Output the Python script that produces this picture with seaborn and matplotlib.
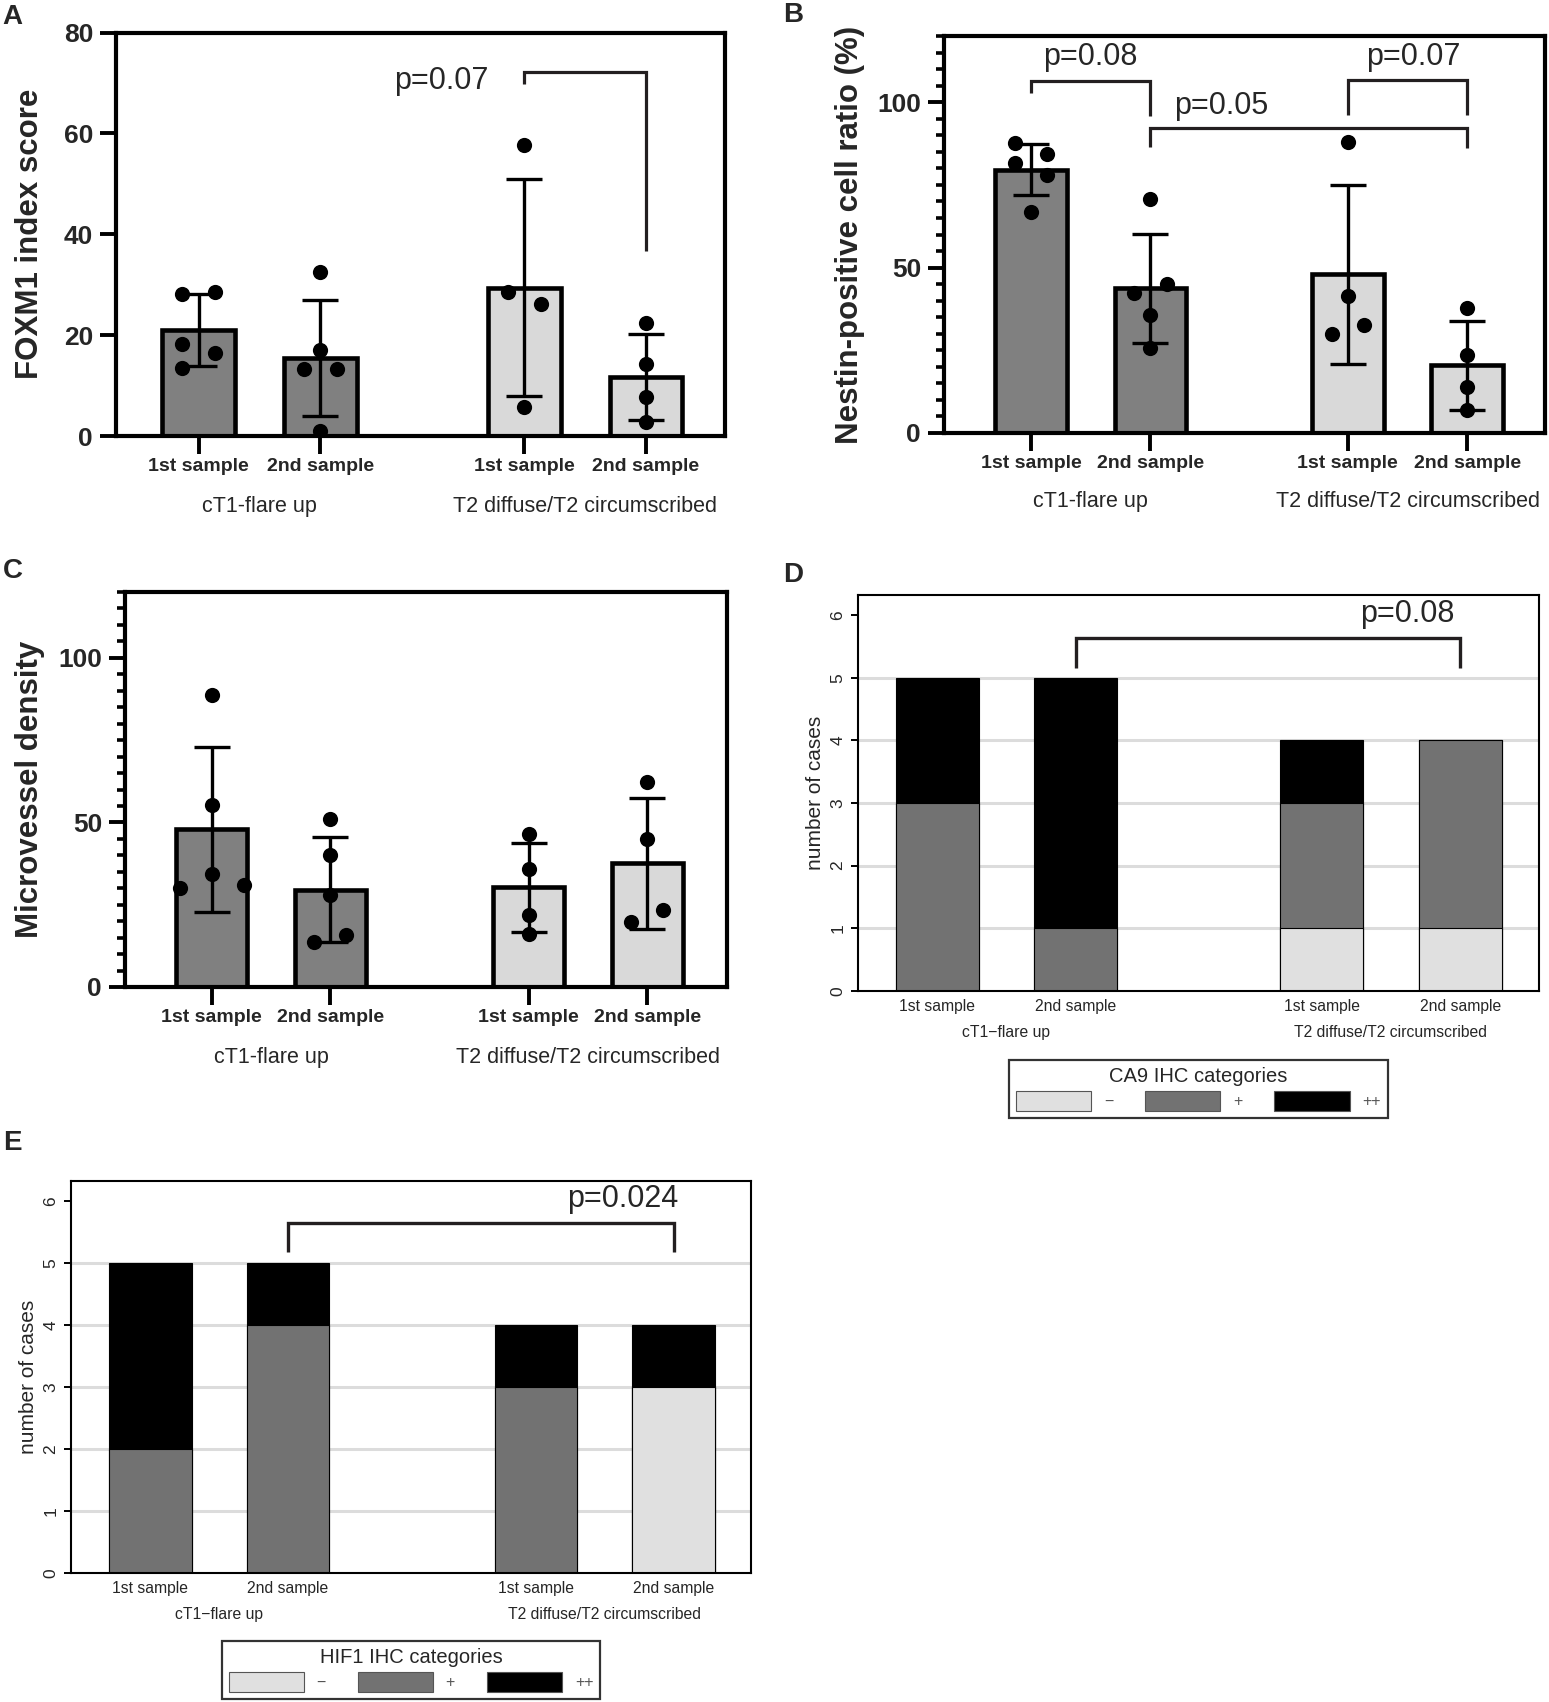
import numpy as np
import pandas as pd
import matplotlib
matplotlib.use("Agg")
import matplotlib.pyplot as plt
from matplotlib.patches import Patch
from matplotlib.ticker import MultipleLocator
import seaborn as sns

sns.set_theme(style="ticks")
plt.rcParams['font.family'] = ['Liberation Sans', 'DejaVu Sans']

# ------------------------------------------------------------------ data
sample_labels = ["1st sample", "2nd sample", "1st sample", "2nd sample"]
group_labels = ["cT1-flare up", "T2 diffuse/T2 circumscribed"]
group_labels_r = ["cT1\u2212flare up", "T2 diffuse/T2 circumscribed"]
bar_shade = ["dark", "dark", "light", "light"]

# A: FOXM1 index score
foxm1_mean = [21.0, 15.4, 29.4, 11.7]
foxm1_sd = [7.1, 11.5, 21.5, 8.6]
foxm1_points = [[28.2, 28.6, 18.3, 16.4, 13.4],
                [32.5, 17.0, 13.3, 13.3, 1.0],
                [57.8, 28.5, 26.1, 5.7],
                [22.4, 14.3, 7.7, 2.8]]

# B: Nestin-positive cell ratio (%)
nestin_mean = [79.6, 43.7, 48.0, 20.5]
nestin_sd = [7.8, 16.6, 27.1, 13.5]
nestin_points = [[87.7, 81.6, 84.3, 77.9, 66.7],
                 [70.8, 42.4, 45.1, 35.8, 25.7],
                 [87.9, 41.3, 30.0, 32.6],
                 [37.9, 23.6, 13.8, 7.0]]

# C: Microvessel density
mvd_mean = [47.9, 29.6, 30.3, 37.6]
mvd_sd = [25.0, 16.0, 13.5, 19.9]
mvd_points = [[88.7, 55.2, 34.4, 30.1, 30.9],
              [50.9, 40.0, 27.9, 13.7, 15.7],
              [46.6, 36.0, 22.0, 16.2],
              [62.3, 45.1, 23.5, 19.8]]

# D: CA9 IHC categories (counts of cases: -, +, ++)
ihc_categories = ["\u2212", "+", "++"]
ca9_neg = [0, 0, 1, 1]
ca9_pos = [3, 1, 2, 3]
ca9_pospos = [2, 4, 1, 0]

# E: HIF1 IHC categories
hif1_neg = [0, 0, 0, 3]
hif1_pos = [2, 4, 3, 0]
hif1_pospos = [3, 1, 1, 1]

# p-value annotations
pvals_a = ["p=0.07"]
pvals_b = ["p=0.08", "p=0.05", "p=0.07"]
pvals_d = ["p=0.08"]
pvals_e = ["p=0.024"]

# ------------------------------------------------------------------ layout / style
W, H = 1549, 1702
fig = plt.figure(figsize=(W / 100, H / 100), dpi=100)
fig.patch.set_facecolor("white")


def axes_px(left, right, top, bottom):
    return fig.add_axes([left / W, 1 - bottom / H, (right - left) / W, (bottom - top) / H])


SHADES = {"dark": "#808080", "light": "#d9d9d9"}
IHC_COLORS = ["#e0e0e0", "#727272", "#000000"]
BRACKET_C = "#231f20"

jit_a = [[-1, 1, -1, 1, -1], [0, 0, -1, 1, 0], [0, -1, 1, 0], [0, 0, 0, 0]]
jit_b = [[-1, -1, 1, 1, 0], [0, -1, 1, 0, 0], [0, 0, -1, 1], [0, 0, 0, 0]]
jit_c = [[0, 0, 0, -2, 2], [0, 0, 0, -1, 1], [0, 0, 0, 0], [0, 0, 1, -1]]


def bracket(ax, x1, x2, y, y1, y2, lw=2.3):
    ax.plot([x1, x1, x2, x2], [y1, y, y, y2], color=BRACKET_C, lw=lw,
            solid_capstyle="butt", solid_joinstyle="miter", zorder=5, clip_on=False)


def gp_panel(ax, pos, means, sds, points, jit, ylim, major, minor, ylabel,
             xlim, ylabel_x, group_off):
    df = pd.DataFrame({"pos": pos, "value": means, "shade": bar_shade})
    sns.barplot(data=df, x="pos", y="value", hue="shade", palette=SHADES,
                dodge=False, native_scale=True, width=0.6, saturation=1,
                edgecolor="black", linewidth=3.3, errorbar=None, legend=False,
                ax=ax, zorder=2)
    ax.errorbar(pos, means, yerr=sds, fmt="none", ecolor="black",
                elinewidth=2.4, capsize=13, capthick=2.4, zorder=3)
    xs, ys = [], []
    for p, vals, js in zip(pos, points, jit):
        for v, j in zip(vals, js):
            xs.append(p + 0.135 * j)
            ys.append(v)
    sns.scatterplot(x=xs, y=ys, color="black", s=120, linewidth=0,
                    ax=ax, zorder=4, legend=False)
    ax.set_xlim(*xlim)
    ax.set_ylim(*ylim)
    ax.set_yticks(major)
    ax.set_yticklabels([str(m) for m in major], fontsize=19, fontweight="bold")
    if minor:
        ax.yaxis.set_minor_locator(MultipleLocator(minor))
        ax.tick_params(axis="y", which="minor", length=6, width=2.6,
                       direction="out", color="black")
    ax.set_xticks(pos)
    ax.set_xticklabels(sample_labels, fontsize=14, fontweight="bold")
    ax.tick_params(axis="x", which="major", length=13, width=2.8,
                   direction="out", pad=3, color="black")
    ax.tick_params(axis="y", which="major", length=11.5, width=2.8,
                   direction="out", pad=5, color="black")
    ax.tick_params(axis="x", which="minor", bottom=False)
    for s in ax.spines.values():
        s.set_linewidth(3.0)
        s.set_color("black")
    ax.set_xlabel("")
    ax.set_ylabel(ylabel, fontsize=22.5, fontweight="bold")
    ax.yaxis.set_label_coords(ylabel_x, 0.5)
    centers = [(pos[0] + pos[1]) / 2, (pos[2] + pos[3]) / 2]
    for c, g in zip(centers, group_labels):
        ax.annotate(g, xy=(c, 0), xycoords=("data", "axes fraction"),
                    xytext=(0, -group_off), textcoords="offset points",
                    ha="center", va="center", fontsize=15.5)


def stacked_panel(ax, pos, neg, pos_, pospos, title, xlim, ylim, ylabel_x):
    cum_top = [a + b + c for a, b, c in zip(neg, pos_, pospos)]
    cum_mid = [a + b for a, b in zip(neg, pos_)]
    for i in range(1, 6):
        ax.axhline(i, color="#dcdcdc", lw=2.2, zorder=0)
    for vals, col in zip([cum_top, cum_mid, neg], IHC_COLORS[::-1]):
        df = pd.DataFrame({"pos": pos, "value": vals})
        sns.barplot(data=df, x="pos", y="value", color=col, native_scale=True,
                    width=0.6, saturation=1, edgecolor="black", linewidth=0.8,
                    errorbar=None, ax=ax, zorder=2)
    ax.set_xlim(*xlim)
    ax.set_ylim(*ylim)
    ax.set_yticks(range(0, 7))
    ax.set_yticklabels([str(i) for i in range(0, 7)], fontsize=12.5,
                       rotation=90, va="center")
    ax.tick_params(axis="y", length=5, width=1.4, direction="out", pad=4,
                   color="black")
    ax.set_xticks(pos)
    ax.set_xticklabels(sample_labels, fontsize=11.3)
    ax.tick_params(axis="x", length=0, pad=6)
    for s in ax.spines.values():
        s.set_linewidth(1.5)
        s.set_color("black")
    ax.set_xlabel("")
    ax.set_ylabel("number of cases", fontsize=15)
    ax.yaxis.set_label_coords(ylabel_x, 0.5)
    centers = [(pos[0] + pos[1]) / 2, (pos[2] + pos[3]) / 2]
    for c, g in zip(centers, group_labels_r):
        ax.annotate(g, xy=(c, 0), xycoords=("data", "axes fraction"),
                    xytext=(0, -30), textcoords="offset points",
                    ha="center", va="center", fontsize=11.3)
    handles = [Patch(facecolor=c, edgecolor="#555555", linewidth=0.8)
               for c in IHC_COLORS]
    leg = ax.legend(handles, ihc_categories, title=title, ncol=3,
                    loc="upper center", bbox_to_anchor=(0.5, -0.153),
                    frameon=True, fancybox=False, edgecolor="black",
                    fontsize=11.5, title_fontsize=14.5, handlelength=4.7,
                    handleheight=1.55, handletextpad=0.8, columnspacing=2.0,
                    borderpad=0.45, labelspacing=0.3, labelcolor="#555555")
    leg.get_frame().set_linewidth(1.6)


# ---------------- Panel A
axA = axes_px(116, 725, 32.6, 436)
posA = [0, 1, 2.68, 3.68]
gp_panel(axA, posA, foxm1_mean, foxm1_sd, foxm1_points, jit_a, (0, 80),
         [0, 20, 40, 60, 80], None, "FOXM1 index score", (-0.68, 4.33),
         -71 / 609, 51)
bracket(axA, posA[2], posA[3], 72.2, 69.9, 36.7)
axA.text(2.0, 70.5, pvals_a[0], ha="center", va="center", fontsize=22)

# ---------------- Panel B
axB = axes_px(944, 1545, 36, 433)
posB = [0, 1, 2.65, 3.65]
gp_panel(axB, posB, nestin_mean, nestin_sd, nestin_points, jit_b, (0, 120),
         [0, 50, 100], 5, "Nestin-positive cell ratio (%)", (-0.727, 4.3),
         -79 / 601, 49)
bracket(axB, posB[0], posB[1], 106.5, 102.7, 95.8)
axB.text(0.5, 113.6, pvals_b[0], ha="center", va="center", fontsize=22)
bracket(axB, posB[1], posB[3], 92.1, 86.5, 86.2)
axB.text(1.59, 98.8, pvals_b[1], ha="center", va="center", fontsize=22)
bracket(axB, posB[2], posB[3], 106.6, 96.1, 96.1)
axB.text(3.2, 113.8, pvals_b[2], ha="center", va="center", fontsize=22)

# ---------------- Panel C
axC = axes_px(125, 727, 592, 987)
posC = [0, 1, 2.67, 3.67]
gp_panel(axC, posC, mvd_mean, mvd_sd, mvd_points, jit_c, (0, 120),
         [0, 50, 100], 5, "Microvessel density", (-0.73, 4.34),
         -80 / 602, 51)

# ---------------- Panel D
axD = axes_px(858, 1539, 595, 991)
posD = [0, 1, 2.78, 3.78]
stacked_panel(axD, posD, ca9_neg, ca9_pos, ca9_pospos, "CA9 IHC categories",
              (-0.573, 4.35), (0, 6.32), -33 / 681)
bracket(axD, posD[1], posD[3], 5.64, 5.15, 5.15, lw=2.4)
axD.text(3.4, 6.02, pvals_d[0], ha="center", va="center", fontsize=22)

# ---------------- Panel E
axE = axes_px(71, 751, 1181, 1573)
posE = [0, 1, 2.8, 3.8]
stacked_panel(axE, posE, hif1_neg, hif1_pos, hif1_pospos, "HIF1 IHC categories",
              (-0.575, 4.36), (0, 6.33), -33 / 680)
bracket(axE, posE[1], posE[3], 5.65, 5.19, 5.19, lw=2.4)
axE.text(3.43, 6.04, pvals_e[0], ha="center", va="center", fontsize=22)

# ---------------- panel letters
for letter, x, y in [("A", 2, 4), ("B", 783, 2), ("C", 3, 558),
                     ("D", 783, 562), ("E", 3, 1130)]:
    fig.text(x / W, 1 - y / H, letter, fontsize=20, fontweight="bold",
             ha="left", va="top")

fig.savefig("out.png", dpi=100, facecolor="white")
